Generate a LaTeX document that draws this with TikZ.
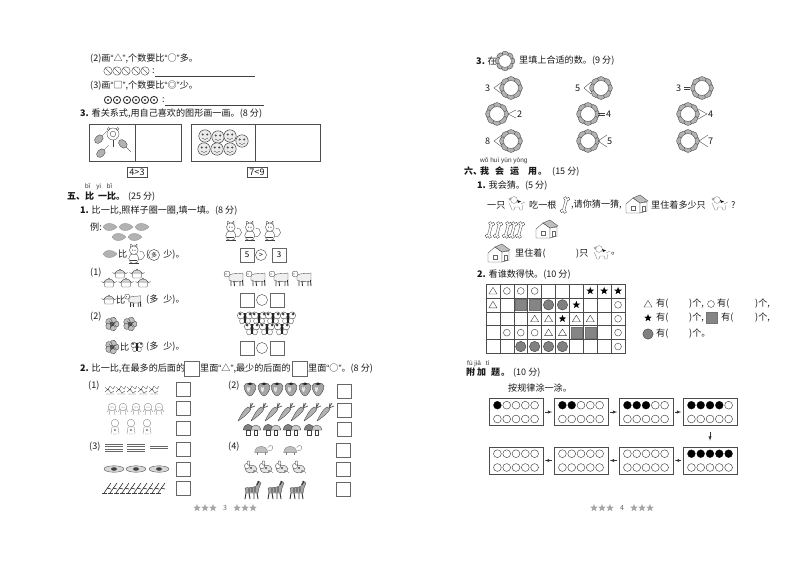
\documentclass[tikz,border=0pt]{standalone}
\usepackage{fontspec}
\newfontfamily\cjk{Noto Sans CJK SC}
\newfontfamily\py{Liberation Sans}
\usepackage{tikz}
\tikzset{
  txt/.style={anchor=west,inner sep=0pt,text=black!90,font=\cjk\fontsize{9.1}{10}\selectfont},
  head/.style={txt,font=\cjk\bfseries\fontsize{9}{10}\selectfont},
  pinyin/.style={anchor=west,inner sep=0pt,text=black!80,font=\py\fontsize{6.5}{7}\selectfont},
  blank/.style={draw=black!60,inner sep=0pt,minimum width=#1,minimum height=#1,line width=.6pt},
  blank/.default=14,
  ansbox/.style={draw=black!70,inner sep=0pt,minimum width=54,minimum height=27,line width=.7pt},
  arr/.style={-latex,black!80,line width=.5pt},
  icon/.style={line width=.35pt,draw=black!75},
  foot/.style={inner sep=0pt,text=black!60,font=\cjk\fontsize{7}{8}\selectfont}
}
\newcommand{\ql}[1]{{\py“}#1{\py”}}
\newcommand{\place}[3]{\begin{scope}[shift={({#1},{#2})},icon]#3\end{scope}}
\newcommand{\iconleaf}[2]{\place{#1}{#2}{\fill[black!30,draw=black!40] (-7,0) .. controls (-4,-5) and (2,-5) .. (7,0) .. controls (2,5) and (-4,5) .. (-7,0);}}
\newcommand{\iconcat}[2]{\place{#1}{#2}{\begin{scope}[scale=1.2]\draw (2,4) .. controls (10,5) and (9,-4) .. (4,-3);\draw[fill=white] (-1,3) circle (4.2);\draw[fill=white] (-1,-4) circle (3.6);\draw (-4,-6)--(-3.6,-9)--(-1.5,-7.5) (1.5,-6)--(1.6,-9)--(-.5,-7.5);\draw (-4,4)--(2,4) (-5,7)--(3,7);\fill[black!70] (-2,-4) circle (.5) (0,-4) circle (.5);\end{scope}}}
\newcommand{\iconpot}[2]{\place{#1}{#2}{\draw[fill=white] (-5,-1)--(5,-1)--(4,4)--(-4,4)--cycle;\draw (-5,0)--(-7.5,-1.5) (5,0)--(7.5,-1.5);\draw[fill=black!15] (-5,-1) .. controls (-3,-5) and (3,-5) .. (5,-1) -- cycle;\draw (-1,-3.8)--(0,-5)--(1,-3.8);}}
\newcommand{\iconsheep}[2]{\place{#1}{#2}{\draw[fill=black!6] (-6,-3) .. controls (-2,-5) and (3,-4) .. (8,-5) -- (8,3) .. controls (3,4) and (-3,4) .. (-6,2) -- cycle;\draw[fill=white] (-8,-4) circle (3);\fill[black!70] (-9,-4) circle (.6);\draw[line width=.9pt,black!80] (-4,3)--(-4,8) (-1,3)--(-.5,8) (5,3)--(5,8) (7.5,2)--(8,8);}}
\newcommand{\iconrose}[2]{\place{#1}{#2}{\foreach \a in {0,72,...,288}{\draw[fill=black!25,rotate=\a] (3.8,0) circle (3.2);}\draw[fill=black!60] (0,0) circle (2);\draw[black!80] (-3,-3)--(3,3) (3,-2)--(-2,4);}}
\newcommand{\iconfly}[2]{\place{#1}{#2}{\draw[fill=white] (-4.2,-2.5) ellipse (3.4 and 3.6) (4.2,-2.5) ellipse (3.4 and 3.6);\draw[fill=white] (-3,3) ellipse (2.4 and 3) (3,3) ellipse (2.4 and 3);\fill[black!75] (-5,-4) circle (1.5) (5,-4) circle (1.5);\draw[line width=1.4pt,black!85] (0,-5)--(0,5);}}
\newcommand{\iconberry}[2]{\place{#1}{#2}{\draw[fill=black!35] (-6,-3) .. controls (-6,-7) and (6,-7) .. (6,-3) .. controls (6,2) and (2,7) .. (0,7) .. controls (-2,7) and (-6,2) .. (-6,-3);\fill[black!10] (-3,-2) .. controls (-3,-1) and (0,-1) .. (0,-2) .. controls (0,2) and (-1,4) .. (-2,3) .. controls (-3,2) and (-3,0) .. (-3,-2);\fill[black!85] (-3,-5) -- (0,-6.5) -- (3,-5) -- (0,-4) -- cycle;}}
\newcommand{\iconcarrot}[2]{\place{#1}{#2}{\draw[fill=black!30] (-9,9) .. controls (-4,6) and (3,0) .. (4,-3) -- (1,-5) .. controls (-3,-3) and (-6,3) .. (-9,9);\draw[line width=.7pt,black!65] (3,-4)--(6,-9) (3,-4)--(8,-6) (3,-4)--(4,-9);}}
\newcommand{\iconmush}[2]{\place{#1}{#2}{\begin{scope}[scale=1.1]\draw[fill=black!50] (-8,0) .. controls (-7,-7) and (0,-7) .. (1,0) -- cycle;\draw[fill=black!20] (-1,0) .. controls (0,-6) and (7,-6) .. (8,0) -- cycle;\draw[fill=white] (-5,0) rectangle (-2,5);\draw[fill=white] (2,0) rectangle (5,5);\end{scope}}}
\newcommand{\iconturtle}[2]{\place{#1}{#2}{\begin{scope}[scale=1.2]\draw[fill=black!25,draw=black!50] (-7,2) .. controls (-6,-5) and (3,-5) .. (4,2) -- cycle;\draw[black!50] (4,0) .. controls (6,1) and (9,0) .. (8,-3) .. controls (7,-5) and (5,-4) .. (4,-2);\draw[black!50] (-5,2)--(-5,4) (2,2)--(2,4);\end{scope}}}
\newcommand{\iconrat}[2]{\place{#1}{#2}{\draw[fill=black!10] (0,1) ellipse (6 and 3.8);\draw[fill=white] (-4,-2) circle (2.6);\draw[fill=white] (-2.5,-5) ellipse (1.4 and 2.2);\fill[black!70] (0,0) circle (1.1) (3,3) circle (.9);\draw (5,3)--(7,5);}}
\newcommand{\iconhorse}[2]{\place{#1}{#2}{\draw[fill=black!35] (-7,-2) .. controls (-3,-3) and (2,-2) .. (4,-4) -- (6,-9) -- (9,-7) -- (7,-2) -- (6,3) -- (-6,3) -- cycle;\draw[line width=.9pt,black!80] (-6,3)--(-7,9) (-3,3)--(-2,9) (2,3)--(2,9) (5,3)--(6,9);\draw[black!85,line width=.8pt] (-3,-2)--(-3,2) (0,-2)--(0,2) (3,-3)--(3,2) (7,-9)--(5,-5);}}
\newcommand{\icondog}[2]{\place{#1}{#2}{\draw[black!50] (-7,-6) circle (1.2);\draw[black!50] (-8,-2) .. controls (-6,2) and (-6,3) .. (-5,5) -- (-3,5) -- (-2,2) -- (2,2) -- (3,5) -- (5,5) -- (6,0);\draw[black!50] (-3,-5) circle (3.4);\fill[black!90] (0,-5) -- (4,-3.5) -- (1,-2) -- cycle;\draw[black!50] (4,-1) -- (8,-3);}}
\newcommand{\iconbone}[2]{\place{#1}{#2}{\begin{scope}[rotate=-15]\draw[fill=white] (-1.5,-6.5) circle (1.8) (1.5,-6.5) circle (1.8) (-1.5,6.5) circle (1.8) (1.5,6.5) circle (1.8);\draw[fill=white,draw=none] (-1.2,-6.5) rectangle (1.2,6.5);\draw (-1.2,-5) -- (-1.2,5) (1.2,-5) -- (1.2,5);\end{scope}}}
\newcommand{\iconhouse}[2]{\place{#1}{#2}{\draw[fill=white] (-11,-1)--(-11,8)--(3,8)--(3,-2)--(-4,-7)--cycle;\draw[fill=white] (3,8)--(10,6)--(10,-3)--(3,-2)--cycle;\draw[fill=black!25] (-4,-7)--(3,-10)--(11,-4)--(3,-2)--cycle;\draw[black!60] (-6,1) rectangle (-2,5);\draw[black!60] (5,1) rectangle (8,6);}}
\newcommand{\iconpetal}[3]{\place{#1}{#2}{\begin{scope}[scale=#3]\foreach \a in {0,45,...,315}{\draw[fill=black!30,rotate=\a] (8.4,0) ellipse (3 and 4.2);}\draw[fill=white] (0,0) circle (7.4);\end{scope}}}
\newcommand{\iconface}[2]{\place{#1}{#2}{\draw[fill=black!8,line width=.5pt] (0,0) circle (6.2);\fill[black!70] (-2.2,-1.5) circle (1.1) (2.2,-1.5) circle (1.1);\draw (-3,2) .. controls (-1,4) and (1,4) .. (3,2);}}
\newcommand{\iconstar}[2]{\place{#1}{#2}{\fill (0,-4)--(1,-1.3)--(3.8,-1.2)--(1.6,.5)--(2.4,3.2)--(0,1.6)--(-2.4,3.2)--(-1.6,.5)--(-3.8,-1.2)--(-1,-1.3)--cycle;}}
\newcommand{\iconfoot}[2]{\fill[black!35,shift={({#1},{#2})}] (0,-4)--(1,-1.3)--(3.8,-1.2)--(1.6,.5)--(2.4,3.2)--(0,1.6)--(-2.4,3.2)--(-1.6,.5)--(-3.8,-1.2)--(-1,-1.3)--cycle;}
\newcommand{\icontri}[2]{\draw[line width=.4pt,black!75] ({#1},{#2-3.6})--({#1+4},{#2+3})--({#1-4},{#2+3})--cycle;}
\newcommand{\iconring}[2]{\draw[line width=.4pt,black!75] ({#1},{#2}) circle (3.4);}
\newcommand{\icondisc}[2]{\draw[line width=.4pt,black!75,fill=black!50] ({#1},{#2}) circle (5.2);}
\newcommand{\iconsq}[2]{\draw[line width=.4pt,black!55,fill=black!48] ({#1-5.5},{#2-5.5}) rectangle ({#1+5.5},{#2+5.5});}

\begin{document}
\begin{tikzpicture}[x=1pt,y=-1pt]
\useasboundingbox[fill=white] (0,0) rectangle (794,561);
% left page, top
\node[txt] (lineA) at (90,59) {(2)画\ql{△},个数要比\ql{○}多。};
\foreach \x in {108,117,126,136,145}{\draw[icon] (\x,71) circle (4.2);\draw[icon] (\x-3,68)--(\x+3,74);}
\node[txt] (colA) at (152,71) {:};
\draw[black!75] (155,76)--(255,76);
\node[txt] (lineB) at (90,86) {(3)画\ql{□},个数要比\ql{◎}少。};
\foreach \x in {108,117,127,136,145,154}{\draw[line width=.9pt,black!80] (\x,100) circle (3.6);\fill[black!80] (\x,100) circle (1.1);}
\node[txt] (colB) at (162,100) {:};
\draw[black!75] (165,105)--(264,105);
\node[txt] (qThree) at (80,114) {\textbf{3.} 看关系式,用自己喜欢的图形画一画。(8 分)};
\draw[black!70,line width=.7pt] (89,124) rectangle (181,161) (135,124)--(135,161);
\draw[black!70,line width=.7pt] (191,124) rectangle (320,161) (255,124)--(255,161);
% rackets and faces
\foreach \x/\y/\r in {101/137/45,103/151/45,125/146/-45}{\place{\x}{\y}{\draw[rotate=\r,fill=black!30] (-3,0) ellipse (5 and 3.5);\draw[rotate=\r] (2,0)--(8,0);}}
\place{113}{135}{\draw[fill=white] (0,-1) circle (6);\draw (0,-1) circle (2.8);\draw[line width=1pt] (0,5)--(0,12);\draw (-4.5,-6) circle (1.5) (4.5,-6) circle (1.5);}
\foreach \x/\y in {205/136,218/137,230/136,242/141,204/149,217/149,230/149}{\iconface{\x}{\y}}
\node[draw=black!70,inner sep=1.5pt,txt,anchor=center,minimum width=20,minimum height=10] (relA) at (137,172) {4>3};
\node[draw=black!70,inner sep=1.5pt,txt,anchor=center,minimum width=20,minimum height=10] (relB) at (257,172) {7<9};
% section five
\node[pinyin] (pyFive) at (85,187) {bǐ\hspace{6pt}yi\hspace{6pt}bǐ};
\node[head] (headFive) at (67,197) {五、比\hspace{4pt}一比。\hspace{3pt}\textmd{(25 分)}};
\node[txt] (qFiveOne) at (80,211) {\textbf{1.} 比一比,照样子圈一圈,填一填。(8 分)};
\node[txt] (exA) at (90,227) {例:};
\foreach \x/\y in {110/227,126/227,142/227,119/237,135/237}{\iconleaf{\x}{\y}}
\foreach \x in {232,251,271}{\iconcat{\x}{232}}
\iconleaf{110}{254}
\node[txt] (cmpA) at (118,254) {比};
\iconcat{135}{255}
\node[txt] (cmpAb) at (146,255) {(\phantom{多}\hspace{5pt}少)。};
\node[draw=black!80,circle,minimum size=11,inner sep=0pt,txt,anchor=center,font=\cjk\fontsize{6}{7}\selectfont] (ringDuo) at (154,255) {多};
\node[blank] (five) at (247,255) {\cjk\fontsize{8}{9}\selectfont 5};
\node[draw=black!75,circle,minimum size=11,inner sep=0pt,font=\cjk\fontsize{7}{8}\selectfont] (gtA) at (261,255) {>};
\node[blank] (three) at (279,255) {\cjk\fontsize{8}{9}\selectfont 3};
\node[txt] (numA) at (90,273) {(1)};
\foreach \x/\y in {120/274,137/274,109/283,126/283,143/283}{\iconpot{\x}{\y}}
\foreach \x in {235,257,280,303}{\iconsheep{\x}{278}}
\iconpot{109}{300}
\node[txt] (cmpB) at (116,300) {比};
\begin{scope}[shift={(134,300)},scale=.85]\iconsheep{0}{0}\end{scope}
\node[txt] (cmpBb) at (146,300) {(多\hspace{5pt}少)。};
\node[blank] (boxBa) at (247,300) {};
\node[circle,draw=black!75,minimum size=11,inner sep=0pt] (ringB) at (262,300) {};
\node[blank] (boxBb) at (277,300) {};
\node[txt] (numB) at (90,317) {(2)};
\foreach \x in {112,130}{\iconrose{\x}{324}}
\foreach \x/\y in {245/318,259/318,273/318,288/318,252/329,267/329,282/329}{\iconfly{\x}{\y}}
\iconrose{112}{347}
\node[txt] (cmpC) at (120,347) {比};
\begin{scope}[shift={(137,347)},scale=.8]\iconfly{0}{0}\end{scope}
\node[txt] (cmpCb) at (146,347) {(多\hspace{5pt}少)。};
\node[blank] (boxCa) at (247,348) {};
\node[circle,draw=black!75,minimum size=11,inner sep=0pt] (ringC) at (262,348) {};
\node[blank] (boxCb) at (277,348) {};
% second question
\node[txt] (qFiveTwo) at (80,369) {\textbf{2.} 比一比,在最多的后面的};
\node[blank=15] (slotA) at (192,369) {};
\node[txt] (qFiveTwoB) at (200,369) {里面\ql{△},最少的后面的};
\node[blank=15] (slotB) at (300,369) {};
\node[txt] (qFiveTwoC) at (308,369) {里面\ql{○}。(8 分)};
\node[txt] (numC) at (88,386) {(1)};
\node[txt] (numD) at (228,386) {(2)};
\node[txt] (numE) at (89,447) {(3)};
\node[txt] (numF) at (228,447) {(4)};
\foreach \x/\y [count=\i] in {183/389,183/408,183/428,183/449,183/469,183/488,344/391,344/410,344/429,343/450,343/469,343/489}{\node[blank] (ans\i) at (\x,\y) {};}
% rows of little pictures
\foreach \x in {105,116,127,138,149}{\draw[icon] (\x,387)--(\x+3,390)--(\x+5,386)--(\x+8,389)--(\x+10,386) (\x,392)--(\x+3,389)--(\x+6,393)--(\x+9,391) (\x+1,394)--(\x+9,394);}
\foreach \x in {112,123,136,148,159}{\place{\x}{409}{\draw[black!50] (0,-2) circle (3.8);\draw[black!50] (-2,1)--(-3,6) (2,1)--(3,6);\draw[black!50] (-3,0)--(-5,3) (3,0)--(5,3);\fill[black!60] (-1,-2) circle (.5) (1,-2) circle (.5);}}
\foreach \x in {115,131,147}{\place{\x}{427}{\draw[black!50] (0,-4) circle (3.8);\draw[black!50] (-3,0)--(-4,7) (3,0)--(4,7) (-3,0)--(3,0) (-2,7)--(2,7);\fill[black!40] (-1,2) rectangle (1,4);}}
\foreach \x in {114,136}{\place{\x}{447}{\draw[black!60] (-9,-3)--(9,-3) (-9,-1)--(9,-1) (-9,2)--(9,2) (-9,4)--(9,4);}}
\place{159}{447}{\draw[black!60] (-9,-.5)--(9,-.5) (-9,1.5)--(9,1.5);}
\foreach \x in {114,136,159}{\place{\x}{469}{\draw[fill=black!15] (0,0) ellipse (10 and 3.2);\fill[black!75] (0,0) ellipse (3 and 1.8);}}
\foreach \x in {108,114,120,126,132,138,144,150,156,162}{\place{\x}{488}{\draw[black!85,line width=.6pt] (-4,5)--(3,-5) (-1,0)--(3,1);\draw (-6,5)--(-1,5);}}
\foreach \x in {250,264,277,291,305,318}{\iconberry{\x}{389}}
\foreach \x in {250,263,277,290,303,316,329}{\iconcarrot{\x-3}{412}}
\foreach \x in {252,272,292,313}{\iconmush{\x}{430}}
\foreach \x in {263,292}{\iconturtle{\x}{450}}
\foreach \x in {251,266,282,299}{\iconrat{\x}{468}}
\foreach \x in {252,275,297}{\iconhorse{\x}{490}}
% right page
\node[txt] (qSixTop) at (476,61) {\textbf{3.} 在};
\iconpetal{505}{61}{.85}
\node[txt] (qSixTopB) at (519,61) {里填上合适的数。(9 分)};
\foreach \x/\y in {511/88,601/88,702/88,497/114,588/114,688/114,511/141,588/141,688/141}{\iconpetal{\x}{\y}{1}}
\node[txt] (sA) at (485,88) {3};
\draw[icon] (502,82)--(494,88)--(502,94);
\node[txt] (sB) at (575,88) {5};
\draw[icon] (591,82)--(584,88)--(591,94);
\node[txt] (sC) at (676,88) {3};
\draw[icon] (684,87)--(690,87) (684,89)--(690,89);
\node[txt] (sD) at (517,114) {2};
\draw[icon] (516,110)--(508,114)--(516,118);
\node[txt] (sE) at (606,114) {4};
\draw[icon] (598,113)--(605,113) (598,115)--(605,115);
\node[txt] (sF) at (708,114) {4};
\draw[icon] (698,109)--(707,114)--(698,119);
\node[txt] (sG) at (485,141) {8};
\draw[icon] (502,135)--(494,141)--(502,147);
\node[txt] (sH) at (607,141) {5};
\draw[icon] (607,135)--(598,141)--(607,147);
\node[txt] (sI) at (708,141) {7};
\draw[icon] (708,135)--(699,141)--(708,147);
\node[pinyin] (pySix) at (480,161) {wǒ huì yùn yòng};
\node[head] (headSix) at (464,171) {六、\hspace{-2pt}我\hspace{6pt}会\hspace{6pt}运\hspace{9pt}用\hspace{1pt}。\hspace{5pt}\textmd{(15 分)}};
\node[txt] (qSixOne) at (477,186) {\textbf{1.} 我会猜。(5 分)};
\node[txt] (gA) at (487,205) {一只};
\icondog{517}{205}
\node[txt] (gB) at (529,205) {吃一根};
\iconbone{565}{205}
\node[txt] (gC) at (571,205) {,请你猜一猜,};
\iconhouse{637}{205}
\node[txt] (gD) at (651,205) {里住着多少只};
\icondog{720}{205}
\node[txt] (gE) at (731,205) {?};
\foreach \x in {490,498,507,513,520}{\iconbone{\x}{230}}
\iconhouse{547}{230}
\iconhouse{499}{254}
\node[txt] (gF) at (515,254) {里住着(};
\node[txt] (gG) at (576,254) {)只};
\icondog{602}{254}
\node[txt] (gH) at (611,254) {。};
\node[txt] (qSixTwo) at (477,275) {\textbf{2.} 看谁数得快。(10 分)};
% counting grid
\foreach \i in {0,...,10}{\draw[black!70,line width=.5pt] ({486+13.9*\i},284)--({486+13.9*\i},353.5);}
\foreach \i in {0,...,5}{\draw[black!70,line width=.5pt] (486,{284+13.9*\i})--(625,{284+13.9*\i});}
\foreach \c/\r in {1/1,1/2,4/3,5/3,7/3,8/3,5/4,6/4}{\icontri{486+13.9*(\c-.5)}{284+13.9*(\r-.5)}}
\foreach \c/\r in {2/1,3/1,4/1,10/2,10/3,2/4,3/4,4/4,10/4,10/5}{\iconring{486+13.9*(\c-.5)}{284+13.9*(\r-.5)}}
\foreach \c/\r in {8/1,9/1,10/1,7/2,6/3}{\iconstar{486+13.9*(\c-.5)}{284+13.9*(\r-.5)}}
\foreach \c/\r in {5/2,6/2,3/5,4/5,5/5,6/5}{\icondisc{486+13.9*(\c-.5)}{284+13.9*(\r-.5)}}
\foreach \c/\r in {3/2,4/2,7/4,8/4}{\iconsq{486+13.9*(\c-.5)}{284+13.9*(\r-.5)}}
% legend
\icontri{648}{304}
\node[txt] (lgA) at (656,304) {有(};
\node[txt] (lgB) at (689,304) {)个,};
\iconring{711}{304}
\node[txt] (lgC) at (717,304) {有(};
\node[txt] (lgD) at (755,304) {)个,};
\iconstar{648}{318}
\node[txt] (lgE) at (656,318) {有(};
\node[txt] (lgF) at (689,318) {)个,};
\iconsq{712}{318}
\node[txt] (lgG) at (721,318) {有(};
\node[txt] (lgH) at (755,318) {)个,};
\icondisc{648}{334}
\node[txt] (lgI) at (656,334) {有(};
\node[txt] (lgJ) at (689,334) {)个。};
% extra question
\node[pinyin] (pyAdd) at (467,364) {fù jiā\hspace{5pt}tí};
\node[head] (headAdd) at (466,373) {附\hspace{2pt}加\hspace{5pt}题\hspace{1pt}。\hspace{3pt}\textmd{(10 分)}};
\node[txt] (qAdd) at (508,388) {按规律涂一涂。};
\foreach \x/\y/\n [count=\i] in {516/412/1,581/412/2,646/412/3,710/412/4,710/460.5/5,646/460.5/0,581/460.5/0,516/460.5/0}{
  \node[ansbox] (pat\i) at (\x,\y) {};
  \foreach \k in {1,...,5}{
    \draw[black!75,line width=.45pt] ({\x-18.6+9.3*(\k-1)},\y-6.8) circle (3.9);
    \draw[black!75,line width=.45pt] ({\x-18.6+9.3*(\k-1)},\y+7) circle (3.9);
    \ifnum\k>\n\else\fill[black] ({\x-18.6+9.3*(\k-1)},\y-6.8) circle (3.9);\fi
  }
}
\draw[arr,shorten <=1.5pt,shorten >=1.5pt] (pat1)--(pat2);
\draw[arr,shorten <=1.5pt,shorten >=1.5pt] (pat2)--(pat3);
\draw[arr,shorten <=1.5pt,shorten >=1.5pt] (pat3)--(pat4);
\draw[arr,shorten <=6pt,shorten >=6pt] (pat4)--(pat5);
\draw[arr,shorten <=1.5pt,shorten >=1.5pt] (pat5)--(pat6);
\draw[arr,shorten <=1.5pt,shorten >=1.5pt] (pat6)--(pat7);
\draw[arr,shorten <=1.5pt,shorten >=1.5pt] (pat7)--(pat8);
% page numbers
\foreach \x in {197,205,213,237,245,253,594,602,610,634,642,650}{\iconfoot{\x}{508}}
\node[foot] (pageL) at (225,508) {3};
\node[foot] (pageR) at (622,508) {4};
\end{tikzpicture}
\end{document}
